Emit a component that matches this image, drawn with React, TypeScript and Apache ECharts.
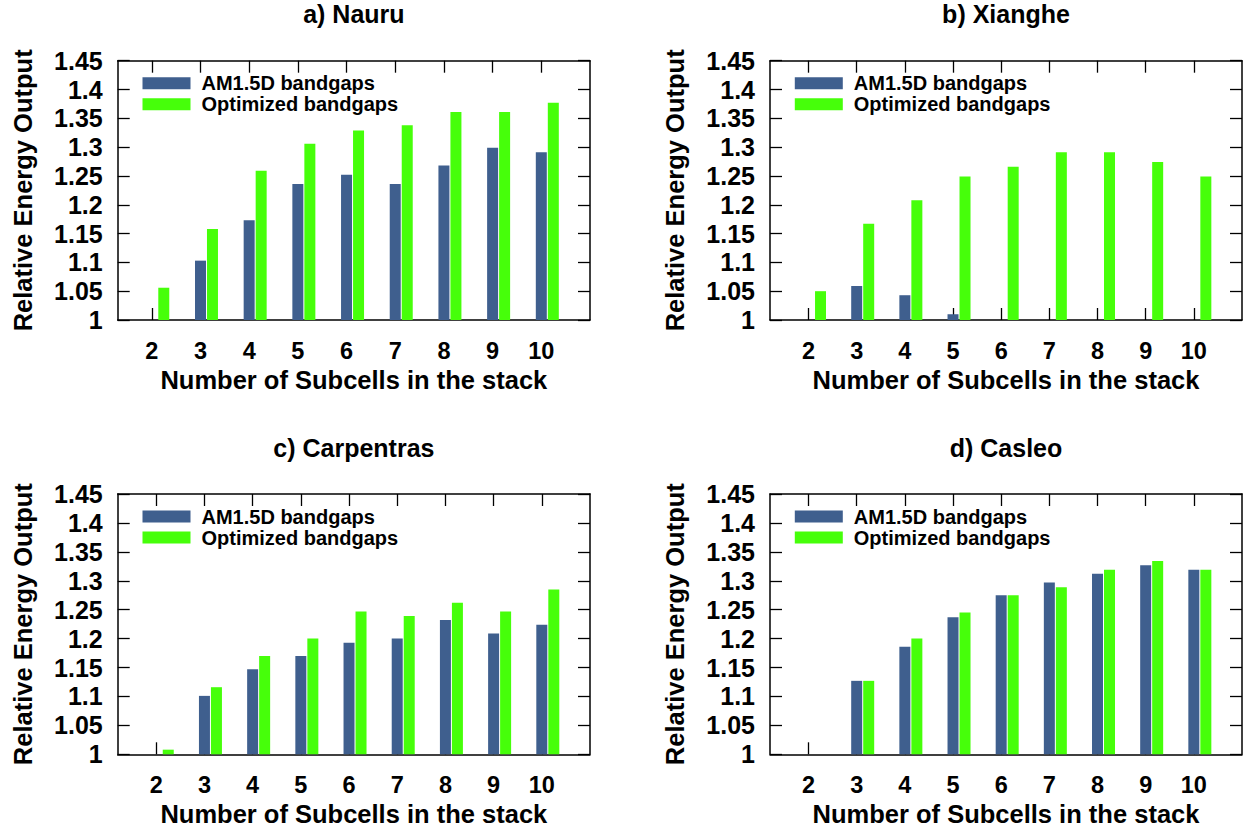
import React, { useEffect, useRef } from "react";
import * as echarts from "echarts";

// ---- data ----
const subcells = [2, 3, 4, 5, 6, 7, 8, 9, 10];
const panelTitles = ["a) Nauru", "b) Xianghe", "c) Carpentras", "d) Casleo"];
const seriesNames = ["AM1.5D bandgaps", "Optimized bandgaps"];

const nauruAM = [null, 1.103, 1.173, 1.236, 1.252, 1.236, 1.268, 1.299, 1.291];
const nauruOpt = [1.056, 1.158, 1.259, 1.306, 1.329, 1.338, 1.361, 1.361, 1.377];
const xiangheAM = [null, 1.059, 1.043, 1.01, null, null, null, null, null];
const xiangheOpt = [1.05, 1.167, 1.208, 1.249, 1.266, 1.291, 1.291, 1.274, 1.249];
const carpentrasAM = [null, 1.101, 1.147, 1.17, 1.193, 1.2, 1.232, 1.209, 1.224];
const carpentrasOpt = [1.008, 1.116, 1.17, 1.2, 1.247, 1.239, 1.262, 1.247, 1.285];
const casleoAM = [null, 1.127, 1.186, 1.237, 1.275, 1.297, 1.312, 1.327, 1.319];
const casleoOpt = [null, 1.127, 1.2, 1.245, 1.275, 1.289, 1.319, 1.334, 1.319];

const yMin = 1;
const yMax = 1.45;
const yStep = 0.05;
const xAxisMins = [1.3, 1.2, 1.2, 1.2];
const xAxisMax = 11;

const panelData = [
  [nauruAM, nauruOpt],
  [xiangheAM, xiangheOpt],
  [carpentrasAM, carpentrasOpt],
  [casleoAM, casleoOpt],
];

// ---- layout / style ----
const W = 1248;
const H = 831;
const FONT = "Liberation Sans, Arial, Helvetica, sans-serif";
const COLORS = ["#3f5f8e", "#46ff0a"];
const grids = [
  { left: 117.7, top: 60.7, width: 472.3, height: 259.3 },
  { left: 770, top: 60.7, width: 472, height: 259.3 },
  { left: 117.7, top: 494, width: 472.3, height: 260.3 },
  { left: 770, top: 494, width: 472, height: 260.3 },
];
const BAR_W = 11;
const BAR_GAP_PX = 1;

function buildOption() {
  const grid: any[] = [];
  const xAxis: any[] = [];
  const yAxis: any[] = [];
  const series: any[] = [];
  const legend: any[] = [];
  const graphic: any[] = [];

  const lineStyle = { color: "#000", width: 1.5 };
  const tickStyle = { color: "#000", width: 1.3 };

  grids.forEach((g, i) => {
    grid.push({ left: g.left, top: g.top, width: g.width, height: g.height, containLabel: false });
    const xmin = xAxisMins[i];
    const pxPerUnit = g.width / (xAxisMax - xmin);
    const shift = (BAR_W + BAR_GAP_PX) / 2 / pxPerUnit;

    // bottom display axis
    xAxis.push({
      type: "value",
      gridIndex: i,
      position: "bottom",
      min: xmin,
      max: xAxisMax,
      name: "Number of Subcells in the stack",
      nameLocation: "middle",
      nameGap: 47,
      nameTextStyle: { fontFamily: FONT, fontWeight: "bold", fontSize: 25.5, color: "#000" },
      axisLine: { show: true, onZero: false, lineStyle },
      axisTick: { show: true, inside: true, length: 12, customValues: subcells, lineStyle: tickStyle },
      axisLabel: {
        show: true,
        customValues: subcells,
        margin: 19,
        fontFamily: FONT,
        fontWeight: "bold",
        fontSize: 23.5,
        color: "#000",
      },
      splitLine: { show: false },
    });
    // top mirror axis
    xAxis.push({
      type: "value",
      gridIndex: i,
      position: "top",
      min: xmin,
      max: xAxisMax,
      axisLine: { show: true, onZero: false, lineStyle },
      axisTick: { show: true, inside: true, length: 12, customValues: subcells, lineStyle: tickStyle },
      axisLabel: { show: false },
      splitLine: { show: false },
    });
    // hidden axis used to place the bar pairs (blue bar centred on the tick)
    xAxis.push({
      type: "value",
      gridIndex: i,
      show: false,
      min: xmin - shift,
      max: xAxisMax - shift,
      splitLine: { show: false },
    });

    yAxis.push({
      type: "value",
      gridIndex: i,
      position: "left",
      min: yMin,
      max: yMax,
      interval: yStep,
      name: "Relative Energy Output",
      nameLocation: "middle",
      nameRotate: 90,
      nameGap: 82,
      nameTextStyle: { fontFamily: FONT, fontWeight: "bold", fontSize: 25.5, color: "#000" },
      axisLine: { show: true, onZero: false, lineStyle },
      axisTick: { show: true, inside: true, length: 12, lineStyle: tickStyle },
      axisLabel: {
        show: true,
        margin: 15,
        fontFamily: FONT,
        fontWeight: "bold",
        fontSize: 25,
        color: "#000",
        formatter: (v: number) => String(parseFloat(v.toFixed(2))),
      },
      splitLine: { show: false },
    });
    yAxis.push({
      type: "value",
      gridIndex: i,
      position: "right",
      min: yMin,
      max: yMax,
      interval: yStep,
      axisLine: { show: true, onZero: false, lineStyle },
      axisTick: { show: true, inside: true, length: 12, lineStyle: tickStyle },
      axisLabel: { show: false },
      splitLine: { show: false },
    });

    panelData[i].forEach((vals, s) => {
      series.push({
        type: "bar",
        name: seriesNames[s],
        xAxisIndex: 3 * i + 2,
        yAxisIndex: 2 * i,
        barWidth: BAR_W,
        barGap: (BAR_GAP_PX / BAR_W) * 100 + "%",
        clip: true,
        itemStyle: { color: COLORS[s] },
        data: subcells.map((c, j) => [c, vals[j]]),
      });
    });

    legend.push({
      left: g.left + 24.8,
      top: g.top + 12.5,
      orient: "vertical",
      icon: "rect",
      itemWidth: 48,
      itemHeight: 12,
      itemGap: 1,
      selectedMode: false,
      padding: 0,
      data: seriesNames,
      textStyle: {
        fontFamily: FONT,
        fontWeight: "bold",
        fontSize: 20,
        color: "#000",
        lineHeight: 20,
        padding: [0, 0, 0, 6],
      },
    });

    graphic.push({
      type: "text",
      x: g.left + g.width / 2,
      y: g.top - 46.3,
      style: {
        text: panelTitles[i],
        align: "center",
        verticalAlign: "middle",
        font: `bold 25px ${FONT}`,
        fill: "#000",
      },
    });
  });

  return {
    animation: false,
    backgroundColor: "#fff",
    grid,
    xAxis,
    yAxis,
    series,
    legend,
    graphic,
  };
}

export default function App() {
  const ref = useRef<HTMLDivElement>(null);
  useEffect(() => {
    document.body.style.margin = "0";
    document.body.style.overflow = "hidden";
    if (!ref.current) return;
    const chart = echarts.init(ref.current, null, { renderer: "svg" });
    chart.setOption(buildOption() as any);
    return () => chart.dispose();
  }, []);
  return <div ref={ref} style={{ width: W, height: H }} />;
}
